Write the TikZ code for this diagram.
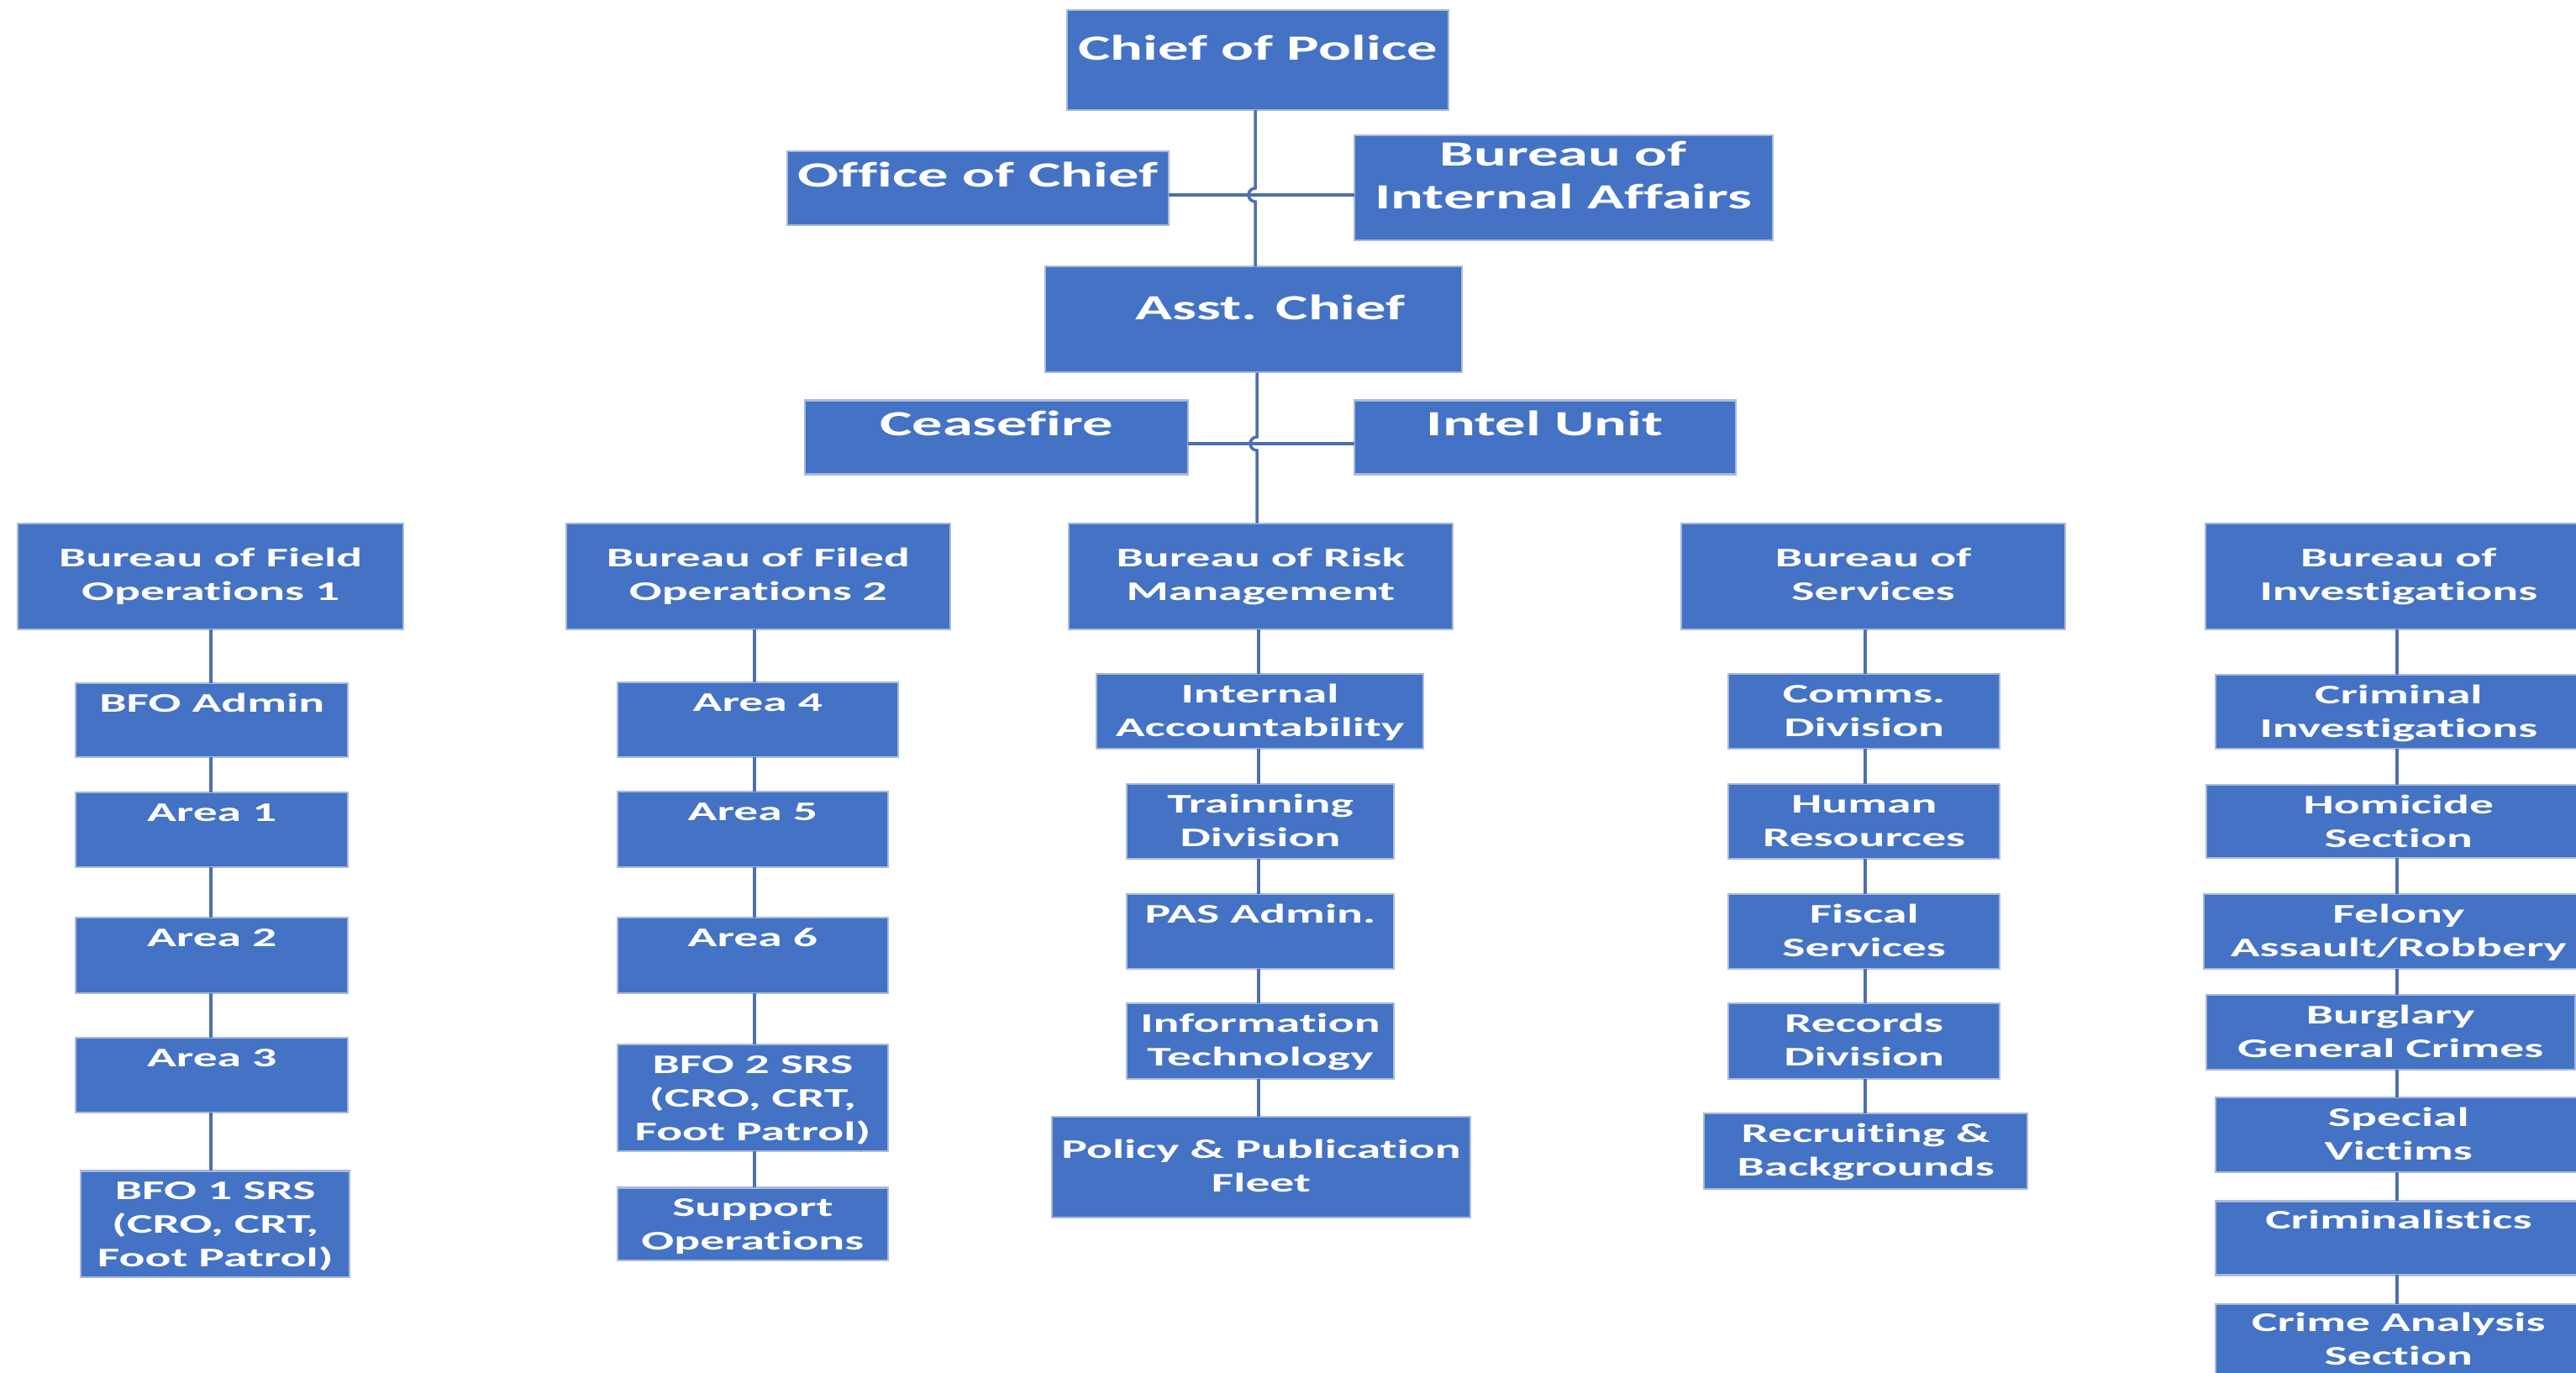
\documentclass[tikz,border=0pt]{standalone}
\usepackage{fontspec}
\newfontfamily\chartfontA{Carlito}[FakeStretch=1.72, Ligatures=NoCommon]
\newfontfamily\chartfontB{Carlito}[FakeStretch=1.80, Ligatures=NoCommon]
\usetikzlibrary{calc}

\definecolor{unitfill}{HTML}{4472C4}
\definecolor{unitedge}{HTML}{A8BADC}
\definecolor{linkline}{HTML}{4D6FB3}

\tikzset{
  unit/.style={rectangle, fill=unitfill, draw=unitedge, line width=0.6pt, inner sep=0pt, outer sep=0pt},
  headtext/.style={text=white, align=center, inner sep=0pt,
    font=\chartfontA\bfseries\fontsize{12pt}{14.5pt}\selectfont},
  subtext/.style={text=white, align=center, inner sep=0pt,
    font=\chartfontB\bfseries\fontsize{9.1pt}{11.4pt}\selectfont},
  link/.style={draw=linkline, line width=1pt},
}

% \orgbox{name}{x1}{y1}{x2}{y2}{text style}{gap above text}{text}
% corners and gap in units of 0.01cm, y measured downwards
\newcommand\orgbox[8]{%
  \node[unit, minimum width={(#4-#2)*0.01cm}, minimum height={(#5-#3)*0.01cm}]
    (#1) at ({(#2+#4)*0.005},{-(#3+#5)*0.005}) {};
  \node[#6, anchor=north] (#1-txt) at ({(#2+#4)*0.005},{-(#3+#7)*0.01}) {\strut #8};
}

\begin{document}
\begin{tikzpicture}
\useasboundingbox (0,0) rectangle (30.66,-16.33);
\fill[white] (0,0) rectangle (30.66,-16.33);
\clip (0,0) rectangle (30.66,-16.33);

% command staff
\orgbox{chief}{1268}{12}{1723}{131}{headtext}{23}{Chief of Police}
\orgbox{office}{936}{180}{1390}{268}{headtext}{6}{Office of Chief}
\orgbox{bia}{1610}{161}{2108}{286}{headtext}{0}{Bureau of\\Internal Affairs}
\orgbox{asst}{1242}{317}{1739}{443}{headtext,xshift=0.2cm}{27}{Asst. Chief}
\orgbox{cease}{957}{476}{1413}{564}{headtext}{6}{Ceasefire}
\orgbox{intel}{1610}{476}{2064}{564}{headtext}{6}{Intel Unit}

% Bureau of Field Operations 1
\orgbox{bfo1}{21}{622}{480}{748}{subtext}{24}{Bureau of Field\\Operations 1}
\orgbox{bfoadmin}{90}{812}{414}{900}{subtext}{7}{BFO Admin}
\orgbox{area1}{90}{942}{414}{1031}{subtext}{7}{Area 1}
\orgbox{area2}{90}{1091}{414}{1181}{subtext}{7}{Area 2}
\orgbox{area3}{90}{1234}{414}{1323}{subtext}{7}{Area 3}
\orgbox{srs1}{96}{1392}{416}{1519}{subtext}{7}{BFO 1 SRS\\(CRO, CRT,\\Foot Patrol)}

% Bureau of Field Operations 2
\orgbox{bfo2}{673}{622}{1130}{748}{subtext}{24}{Bureau of Filed\\Operations 2}
\orgbox{area4}{734}{811}{1068}{900}{subtext}{7}{Area 4}
\orgbox{area5}{734}{941}{1056}{1031}{subtext}{7}{Area 5}
\orgbox{area6}{734}{1091}{1056}{1181}{subtext}{7}{Area 6}
\orgbox{srs2}{734}{1242}{1056}{1369}{subtext}{7}{BFO 2 SRS\\(CRO, CRT,\\Foot Patrol)}
\orgbox{support}{734}{1412}{1056}{1499}{subtext}{7}{Support\\Operations}

% Bureau of Risk Management
\orgbox{brm}{1270}{622}{1728}{748}{subtext}{24}{Bureau of Risk\\Management}
\orgbox{ia}{1303}{801}{1693}{890}{subtext}{7}{Internal\\Accountability}
\orgbox{train}{1339}{932}{1658}{1021}{subtext}{7}{Trainning\\Division}
\orgbox{pas}{1339}{1063}{1658}{1152}{subtext}{7}{PAS Admin.}
\orgbox{it}{1339}{1193}{1658}{1283}{subtext}{7}{Information\\Technology}
\orgbox{policy}{1250}{1328}{1749}{1448}{subtext}{22}{Policy \& Publication\\Fleet}

% Bureau of Services
\orgbox{bos}{1999}{622}{2456}{748}{subtext}{24}{Bureau of\\Services}
\orgbox{comms}{2055}{801}{2378}{890}{subtext}{7}{Comms.\\Division}
\orgbox{hr}{2055}{932}{2378}{1021}{subtext}{7}{Human\\Resources}
\orgbox{fiscal}{2055}{1063}{2378}{1152}{subtext}{7}{Fiscal\\Services}
\orgbox{records}{2055}{1193}{2378}{1283}{subtext}{7}{Records\\Division}
\orgbox{recruit}{2026}{1324}{2411}{1414}{subtext}{7}{Recruiting \&\\Backgrounds}

% Bureau of Investigations
\orgbox{boi}{2622}{622}{3082}{748}{subtext}{24}{Bureau of\\Investigations}
\orgbox{crim}{2634}{802}{3070}{890}{subtext}{7}{Criminal\\Investigations}
\orgbox{homicide}{2623}{933}{3081}{1020}{subtext}{7}{Homicide\\Section}
\orgbox{felony}{2620}{1063}{3084}{1152}{subtext}{7}{Felony\\Assault/Robbery}
\orgbox{burglary}{2623}{1183}{3062}{1272}{subtext}{7}{Burglary\\General Crimes}
\orgbox{special}{2634}{1305}{3070}{1394}{subtext}{7}{Special\\Victims}
\orgbox{crimlab}{2634}{1428}{3070}{1516}{subtext}{7}{Criminalistics}
\orgbox{analysis}{2634}{1550}{3070}{1690}{subtext}{7}{Crime Analysis\\Section}

% chain of command with line hops at the staff crossings
\coordinate (hop1) at (14.94,-2.32);
\coordinate (hop2) at (14.96,-5.28);
\draw[link] (office.east |- hop1) -- (bia.west |- hop1);
\draw[link] (cease.east |- hop2) -- (intel.west |- hop2);
\draw[link] (chief.south -| hop1) -- ([yshift=0.08cm]hop1)
  arc[start angle=90, end angle=270, radius=0.08cm] -- (asst.north -| hop1);
\draw[link] (asst.south -| hop2) -- ([yshift=0.08cm]hop2)
  arc[start angle=90, end angle=270, radius=0.08cm] -- (brm.north -| hop2);

% bureau columns
\coordinate (colA) at (2.51,0);
\coordinate (colB) at (8.98,0);
\coordinate (colC) at (14.98,0);
\coordinate (colD) at (22.20,0);
\coordinate (colE) at (28.53,0);
\foreach \a/\b in {bfo1/bfoadmin, bfoadmin/area1, area1/area2, area2/area3, area3/srs1}
  \draw[link] (\a.south -| colA) -- (\b.north -| colA);
\foreach \a/\b in {bfo2/area4, area4/area5, area5/area6, area6/srs2, srs2/support}
  \draw[link] (\a.south -| colB) -- (\b.north -| colB);
\foreach \a/\b in {brm/ia, ia/train, train/pas, pas/it, it/policy}
  \draw[link] (\a.south -| colC) -- (\b.north -| colC);
\foreach \a/\b in {bos/comms, comms/hr, hr/fiscal, fiscal/records, records/recruit}
  \draw[link] (\a.south -| colD) -- (\b.north -| colD);
\foreach \a/\b in {boi/crim, crim/homicide, homicide/felony, felony/burglary,
                   burglary/special, special/crimlab, crimlab/analysis}
  \draw[link] (\a.south -| colE) -- (\b.north -| colE);
\end{tikzpicture}
\end{document}
